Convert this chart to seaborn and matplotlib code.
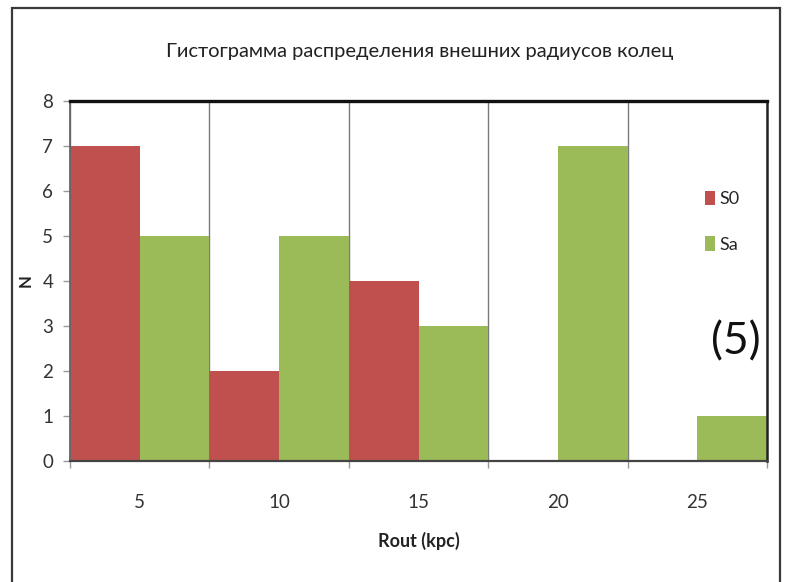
import matplotlib
matplotlib.use("Agg")
import matplotlib.pyplot as plt
from matplotlib.patches import Rectangle
import seaborn as sns
import pandas as pd

# Ring outer radius bins (kpc) and counts per galaxy type
radius_bins = ["5", "10", "15", "20", "25"]
counts_s0 = [7, 2, 4, 0, 0]
counts_sa = [5, 5, 3, 7, 1]
series_names = ["S0", "Sa"]
y_ticks = [0, 1, 2, 3, 4, 5, 6, 7, 8]

title_text = "Гистограмма распределения внешних радиусов колец"
x_label = "Rout (kpc)"
y_label = "N"
panel_tag = "(5)"

colors = {"S0": "#C0504D", "Sa": "#9BBB59"}

df = pd.DataFrame({
    "Rout": radius_bins * 2,
    "type": [series_names[0]] * len(radius_bins) + [series_names[1]] * len(radius_bins),
    "N": counts_s0 + counts_sa,
})

sns.set_theme(style="white")
plt.rcParams["font.family"] = ["Lato", "DejaVu Sans"]

fig = plt.figure(figsize=(7.94, 5.82), dpi=100)
ax = fig.add_axes([0.0882, 0.2079, 0.878, 0.6186])

sns.barplot(data=df, x="Rout", y="N", hue="type", order=radius_bins,
            hue_order=series_names, palette=colors, width=1.0, gap=0,
            saturation=1, linewidth=0, ax=ax)

ax.set_xlim(-0.5, len(radius_bins) - 0.5)
ax.set_ylim(0, 8)
ax.set_yticks(y_ticks)
ax.set_yticklabels([str(t) for t in y_ticks], fontsize=13.5, color="#333333")

# category boundaries as minor ticks with vertical grid lines
bounds = [i - 0.5 for i in range(len(radius_bins) + 1)]
ax.set_xticks(bounds, minor=True)
ax.xaxis.grid(True, which="minor", color="#7a7a7a", linewidth=1.0)
ax.set_axisbelow(True)
ax.tick_params(axis="x", which="major", length=0, pad=24, labelsize=13.5,
               labelcolor="#333333")
ax.tick_params(axis="x", which="minor", length=5, width=1, color="#999999",
               direction="out", bottom=True)
ax.tick_params(axis="y", which="major", length=5, width=1, color="#999999",
               direction="out", left=True, pad=7)

for name, sp in ax.spines.items():
    sp.set_visible(True)
ax.spines["top"].set_color("#111111")
ax.spines["top"].set_linewidth(2.4)
ax.spines["right"].set_color("#222222")
ax.spines["right"].set_linewidth(1.8)
ax.spines["left"].set_color("#666666")
ax.spines["left"].set_linewidth(1.3)
ax.spines["bottom"].set_color("#444444")
ax.spines["bottom"].set_linewidth(1.6)

ax.set_xlabel(x_label, fontsize=13, fontweight="bold", labelpad=15, color="#222222")
ax.set_ylabel(y_label, fontsize=12, fontweight="bold", labelpad=6, color="#222222")

sns.move_legend(ax, loc="upper left", bbox_to_anchor=(0.887, 0.795),
                frameon=False, title=None, fontsize=13, labelspacing=1.6,
                handlelength=0.55, handleheight=0.85, handletextpad=0.25)

ax.text(0.99, 0.33, panel_tag, transform=ax.transAxes, ha="right", va="center",
        fontsize=32, color="#111111")

fig.text(420 / 794, 1 - 52 / 582, title_text, ha="center", va="center",
         fontsize=14.5, color="#222222")

# outer chart frame
fig.patches.append(Rectangle((12 / 794, -0.02), (780 - 12) / 794, 1 - 8 / 582 + 0.02,
                             transform=fig.transFigure, fill=False,
                             edgecolor="#3a3a3a", linewidth=1.6))

fig.savefig("out.png", dpi=100)
